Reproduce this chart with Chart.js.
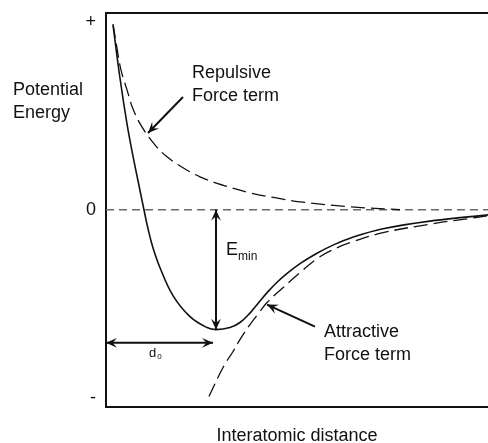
<!DOCTYPE html>
<html>
<head>
<meta charset="utf-8">
<script src="https://cdn.jsdelivr.net/npm/chart.js@4.4.1/dist/chart.umd.min.js"></script>
<style>
  html, body { margin: 0; padding: 0; background: #fff; }
  canvas { display: block; }
</style>
</head>
<body>
<canvas id="chart" width="488" height="443"></canvas>
<script>
// Interatomic distance r, in units of the equilibrium spacing d0.
// Energies are normalised so the "+" and "-" ticks sit at +1 and -1.

// Net potential energy (solid curve)
const netR = [0.064, 0.127, 0.191, 0.245, 0.291, 0.345, 0.382, 0.427, 0.491, 0.609, 0.764, 0.918, 1.000, 1.127, 1.218, 1.309, 1.391, 1.473, 1.555, 1.655, 1.764, 1.918, 2.064, 2.218, 2.518, 2.973, 3.473];
const netE = [0.981, 0.700, 0.456, 0.286, 0.154, 0.000, -0.101, -0.202, -0.308, -0.456, -0.568, -0.626, -0.637, -0.626, -0.599, -0.549, -0.491, -0.435, -0.385, -0.334, -0.286, -0.231, -0.188, -0.151, -0.101, -0.058, -0.027];

// Repulsive force term (upper dashed curve)
const repR = [0.064, 0.100, 0.136, 0.191, 0.245, 0.327, 0.445, 0.555, 0.700, 0.855, 1.082, 1.309, 1.536, 1.764, 2.218, 2.673];
const repE = [0.987, 0.859, 0.743, 0.637, 0.536, 0.440, 0.345, 0.281, 0.223, 0.175, 0.127, 0.090, 0.064, 0.042, 0.016, 0.000];

// Attractive force term (lower dashed curve)
const attR = [0.936, 1.064, 1.155, 1.218, 1.309, 1.400, 1.464, 1.609, 1.764, 1.918, 2.064, 2.218, 2.518, 2.973, 3.282, 3.473];
const attE = [-0.992, -0.838, -0.753, -0.690, -0.610, -0.541, -0.493, -0.414, -0.334, -0.260, -0.212, -0.175, -0.122, -0.074, -0.048, -0.032];

// Energy axis ticks
const yTickValues = [-1, 0, 1];
const yTickLabels = ['-', '0', '+'];

const rMin = 0, rMax = 3.473;
const eMin = -1.048, eMax = 1.048;

const FONT = '"Liberation Sans", Arial, Helvetica, sans-serif';
const INK = '#111';

const toPoints = (xs, ys) => xs.map((x, i) => ({ x, y: ys[i] }));

// Equilibrium point: bottom of the net energy well
const iMin = netE.indexOf(Math.min(...netE));
const d0 = netR[iMin];
const eWell = netE[iMin];

function arrowHead(ctx, x1, y1, x2, y2, size) {
  const a = Math.atan2(y2 - y1, x2 - x1);
  const w = 0.42;
  ctx.beginPath();
  ctx.moveTo(x2, y2);
  ctx.lineTo(x2 - size * Math.cos(a - w), y2 - size * Math.sin(a - w));
  ctx.lineTo(x2 - size * 0.55 * Math.cos(a), y2 - size * 0.55 * Math.sin(a));
  ctx.lineTo(x2 - size * Math.cos(a + w), y2 - size * Math.sin(a + w));
  ctx.closePath();
  ctx.fill();
}

function arrow(ctx, x1, y1, x2, y2, both) {
  ctx.beginPath();
  ctx.moveTo(x1, y1);
  ctx.lineTo(x2, y2);
  ctx.stroke();
  arrowHead(ctx, x1, y1, x2, y2, 12);
  if (both) arrowHead(ctx, x2, y2, x1, y1, 12);
}

// Arrows and text labels placed in data coordinates
const annotations = {
  id: 'annotations',
  afterDatasetsDraw(chart) {
    const { ctx, scales: { x, y } } = chart;
    const px = v => x.getPixelForValue(v);
    const py = v => y.getPixelForValue(v);
    ctx.save();
    ctx.strokeStyle = INK;
    ctx.fillStyle = INK;
    ctx.lineWidth = 2;
    ctx.lineCap = 'butt';

    // depth of the well, E_min
    arrow(ctx, px(d0), py(0), px(d0), py(eWell), true);
    // equilibrium spacing, d0
    arrow(ctx, px(0), py(-0.707), px(d0) - 3, py(-0.707), true);
    // pointers to the two force terms
    arrow(ctx, px(0.70), py(0.599), px(0.382), py(0.408), false);
    arrow(ctx, px(1.90), py(-0.621), px(1.464), py(-0.504), false);

    ctx.textBaseline = 'alphabetic';
    ctx.textAlign = 'left';
    const text = (s, vx, vy, size) => {
      ctx.font = size + 'px ' + FONT;
      ctx.fillText(s, px(vx), py(vy));
    };
    text('Repulsive', 0.782, 0.700, 18);
    text('Force term', 0.782, 0.578, 18);
    text('Attractive', 1.982, -0.674, 18);
    text('Force term', 1.982, -0.796, 18);
    text('E', 1.091, -0.239, 18);
    text('min', 1.200, -0.265, 12);
    text('d', 0.391, -0.780, 13);
    text('0', 0.466, -0.793, 8);

    // energy axis caption, left of the frame
    ctx.font = '18px ' + FONT;
    ctx.fillText('Potential', 13, py(0.610));
    ctx.fillText('Energy', 13, py(0.488));
    ctx.restore();
  }
};

new Chart(document.getElementById('chart'), {
  type: 'line',
  data: {
    datasets: [
      {
        label: 'Net energy',
        data: toPoints(netR, netE),
        borderColor: INK,
        borderWidth: 1.6,
        tension: 0.4
      },
      {
        label: 'Repulsive term',
        data: toPoints(repR, repE),
        borderColor: INK,
        borderWidth: 1.3,
        borderDash: [14, 6],
        tension: 0.4
      },
      {
        label: 'Attractive term',
        data: toPoints(attR, attE),
        borderColor: INK,
        borderWidth: 1.3,
        borderDash: [14, 6],
        tension: 0.4
      },
      {
        label: 'Zero',
        data: [{ x: rMin, y: 0 }, { x: rMax, y: 0 }],
        borderColor: '#6a6a6a',
        borderWidth: 1.5,
        borderDash: [8, 5]
      }
    ]
  },
  options: {
    responsive: false,
    animation: false,
    events: [],
    elements: { point: { radius: 0 }, line: { fill: false } },
    layout: { padding: 0 },
    plugins: { legend: { display: false }, tooltip: { enabled: false } },
    scales: {
      x: {
        type: 'linear',
        position: 'bottom',
        min: rMin,
        max: rMax,
        grid: { display: false, drawTicks: false },
        border: { display: true, color: INK, width: 2 },
        ticks: { display: false },
        title: {
          display: true,
          text: 'Interatomic distance',
          color: INK,
          font: { family: FONT, size: 18, lineHeight: 1 },
          padding: { top: 0, bottom: -2 }
        },
        afterFit(s) { s.height = 36; }
      },
      xTop: {
        type: 'linear',
        position: 'top',
        min: rMin,
        max: rMax,
        grid: { display: false, drawTicks: false },
        border: { display: true, color: INK, width: 2 },
        ticks: { display: false },
        afterFit(s) { s.height = 12.5; }
      },
      y: {
        type: 'linear',
        position: 'left',
        min: eMin,
        max: eMax,
        grid: { display: false, drawTicks: false },
        border: { display: true, color: INK, width: 2 },
        afterBuildTicks(s) { s.ticks = yTickValues.map(v => ({ value: v })); },
        ticks: {
          color: INK,
          padding: 10,
          font: { family: FONT, size: 18 },
          callback: (v) => yTickLabels[yTickValues.indexOf(v)]
        },
        afterFit(s) {
          s.width = 106;
          s.paddingTop = 0;
          s.paddingBottom = 0;
        }
      }
    }
  },
  plugins: [annotations]
});
</script>
</body>
</html>
